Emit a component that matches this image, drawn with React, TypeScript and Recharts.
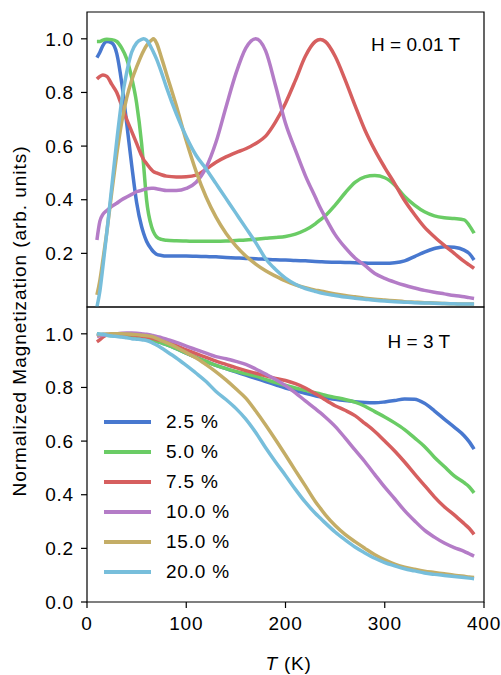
import React from 'react';
import { LineChart, Line, XAxis, YAxis, ReferenceArea, Legend, Label } from 'recharts';

// temperature grid (K), shared by every curve
const temps = [
  10, 13, 16, 20, 25, 30, 35, 40, 45, 50,
  55, 57, 60, 65, 67, 70, 75, 80, 90, 100,
  110, 120, 130, 140, 150, 160, 170, 180, 190, 200,
  210, 220, 230, 235, 240, 250, 260, 270, 280, 290,
  300, 310, 320, 330, 340, 350, 360, 370, 380, 385, 390,
];

// H = 0.01 T
const low25 = [
  0.93, 0.95, 0.975, 0.99, 0.985, 0.945, 0.835, 0.685, 0.53, 0.39,
  0.30, 0.275, 0.245, 0.215, 0.206, 0.197, 0.192, 0.19, 0.19, 0.19,
  0.189, 0.188, 0.187, 0.185, 0.183, 0.181, 0.18, 0.178, 0.176, 0.175,
  0.173, 0.172, 0.17, 0.169, 0.168, 0.167, 0.166, 0.165, 0.164, 0.163,
  0.163, 0.165, 0.172, 0.188, 0.205, 0.218, 0.225, 0.223, 0.212, 0.2, 0.175,
];
const low50 = [
  0.99, 0.99, 0.995, 0.998, 0.997, 0.99, 0.965, 0.925, 0.855, 0.76,
  0.61, 0.53, 0.40, 0.30, 0.28, 0.262, 0.252, 0.249, 0.247, 0.246,
  0.245, 0.245, 0.245, 0.246, 0.248, 0.25, 0.253, 0.256, 0.259, 0.263,
  0.272, 0.287, 0.31, 0.325, 0.34, 0.38, 0.425, 0.465, 0.485, 0.49,
  0.482, 0.455, 0.412, 0.38, 0.355, 0.34, 0.333, 0.33, 0.325, 0.305, 0.275,
];
const low75 = [
  0.85, 0.86, 0.865, 0.86, 0.83, 0.80, 0.75, 0.70, 0.655, 0.61,
  0.565, 0.55, 0.535, 0.512, 0.505, 0.50, 0.493, 0.488, 0.485, 0.486,
  0.492, 0.514, 0.54, 0.56, 0.576, 0.59, 0.61, 0.637, 0.69, 0.76,
  0.845, 0.935, 0.99, 0.997, 0.99, 0.935, 0.848, 0.752, 0.66, 0.585,
  0.52, 0.46, 0.397, 0.345, 0.298, 0.262, 0.23, 0.2, 0.17, 0.157, 0.144,
];
const low100 = [
  0.25, 0.32, 0.345, 0.36, 0.375, 0.387, 0.40, 0.41, 0.42, 0.43,
  0.435, 0.438, 0.441, 0.443, 0.443, 0.441, 0.437, 0.434, 0.434, 0.442,
  0.465, 0.52, 0.615, 0.745, 0.87, 0.965, 1.0, 0.955, 0.825, 0.685,
  0.585, 0.49, 0.41, 0.37, 0.335, 0.27, 0.222, 0.183, 0.155, 0.125,
  0.107, 0.093, 0.081, 0.071, 0.062, 0.055, 0.049, 0.043, 0.038, 0.035, 0.032,
];
const low150 = [
  0.045, 0.10, 0.175, 0.28, 0.43, 0.57, 0.69, 0.78, 0.845, 0.895,
  0.94, 0.955, 0.975, 0.995, 1.0, 0.985, 0.93, 0.87, 0.75, 0.62,
  0.505, 0.41, 0.335, 0.275, 0.228, 0.19, 0.16, 0.135, 0.115, 0.097,
  0.083, 0.072, 0.063, 0.06, 0.056, 0.049, 0.043, 0.038, 0.033, 0.029,
  0.026, 0.023, 0.02, 0.018, 0.016, 0.015, 0.013, 0.012, 0.011, 0.011, 0.011,
];
const low200 = [
  0.0, 0.06, 0.15, 0.28, 0.45, 0.62, 0.77, 0.875, 0.95, 0.985,
  0.998, 1.0, 0.995, 0.965, 0.95, 0.925, 0.875, 0.82, 0.72, 0.635,
  0.565, 0.515, 0.46, 0.405, 0.35, 0.295, 0.24, 0.18, 0.14, 0.108,
  0.085, 0.069, 0.058, 0.053, 0.049, 0.043, 0.037, 0.033, 0.029, 0.025,
  0.022, 0.02, 0.018, 0.016, 0.015, 0.014, 0.013, 0.012, 0.011, 0.011, 0.011,
];

// H = 3 T
const high25 = [
  0.995, 0.996, 0.997, 0.997, 0.996, 0.994, 0.992, 0.99, 0.988, 0.986,
  0.984, 0.983, 0.981, 0.977, 0.975, 0.972, 0.966, 0.96, 0.945, 0.928,
  0.912, 0.897, 0.882, 0.87, 0.858, 0.846, 0.834, 0.822, 0.81, 0.798,
  0.788, 0.778, 0.769, 0.765, 0.762, 0.756, 0.751, 0.747, 0.744, 0.743,
  0.746, 0.751, 0.757, 0.756, 0.741, 0.713, 0.682, 0.652, 0.62, 0.598, 0.57,
];
const high50 = [
  1.0, 0.998, 0.996, 0.995, 0.993, 0.992, 0.99, 0.988, 0.986, 0.985,
  0.983, 0.982, 0.981, 0.977, 0.975, 0.972, 0.966, 0.96, 0.945, 0.928,
  0.912, 0.897, 0.882, 0.87, 0.86, 0.851, 0.842, 0.83, 0.818, 0.808,
  0.798, 0.789, 0.78, 0.776, 0.771, 0.763, 0.755, 0.745, 0.73, 0.71,
  0.69, 0.668, 0.643, 0.612, 0.58, 0.54, 0.505, 0.47, 0.445, 0.43, 0.407,
];
const high75 = [
  0.97, 0.978, 0.988, 0.995, 0.998, 0.999, 0.999, 0.998, 0.996, 0.994,
  0.991, 0.99, 0.988, 0.984, 0.982, 0.979, 0.975, 0.97, 0.956, 0.94,
  0.926, 0.912, 0.898, 0.886, 0.874, 0.863, 0.853, 0.843, 0.834, 0.826,
  0.814, 0.798, 0.777, 0.766, 0.754, 0.732, 0.715, 0.695, 0.666, 0.636,
  0.6, 0.563, 0.522, 0.478, 0.435, 0.392, 0.355, 0.325, 0.292, 0.275, 0.252,
];
const high100 = [
  0.99, 0.993, 0.995, 0.997, 0.999, 1.0, 1.002, 1.003, 1.003, 1.002,
  1.0, 0.999, 0.998, 0.995, 0.993, 0.99, 0.986, 0.98, 0.968, 0.954,
  0.941, 0.928, 0.915, 0.907, 0.897, 0.886, 0.869, 0.85, 0.83, 0.807,
  0.78, 0.75, 0.721, 0.706, 0.69, 0.655, 0.612, 0.567, 0.523, 0.475,
  0.428, 0.385, 0.341, 0.303, 0.268, 0.242, 0.22, 0.203, 0.189, 0.18, 0.171,
];
const high150 = [
  0.995, 0.997, 0.998, 0.999, 1.0, 1.0, 1.0, 0.999, 0.998, 0.997,
  0.995, 0.994, 0.993, 0.99, 0.988, 0.983, 0.975, 0.967, 0.95, 0.93,
  0.91, 0.885, 0.858, 0.828, 0.795, 0.76, 0.712, 0.66, 0.605, 0.548,
  0.49, 0.433, 0.375, 0.35, 0.326, 0.285, 0.252, 0.225, 0.2, 0.176,
  0.157, 0.141, 0.13, 0.122, 0.115, 0.11, 0.105, 0.1, 0.096, 0.093, 0.091,
];
const high200 = [
  1.0, 0.999, 0.998, 0.995, 0.992, 0.99, 0.988, 0.985, 0.982, 0.98,
  0.978, 0.977, 0.975, 0.968, 0.964, 0.958, 0.947, 0.935, 0.91, 0.882,
  0.853, 0.822, 0.785, 0.755, 0.722, 0.682, 0.632, 0.575, 0.522, 0.472,
  0.42, 0.372, 0.331, 0.313, 0.295, 0.261, 0.232, 0.205, 0.183, 0.163,
  0.147, 0.135, 0.124, 0.116, 0.108, 0.103, 0.099, 0.095, 0.091, 0.089, 0.087,
];

const labels = ['2.5 %', '5.0 %', '7.5 %', '10.0 %', '15.0 %', '20.0 %'];
const colors = ['#4878CF', '#6ACC65', '#D65F5F', '#B47CC7', '#C4AD66', '#77BEDB'];
const keys = ['c25', 'c50', 'c75', 'c100', 'c150', 'c200'];

const yTicks = [0, 0.2, 0.4, 0.6, 0.8, 1.0];
const xTicks = [0, 100, 200, 300, 400];

const buildRows = (cols: number[][]) =>
  temps.map((t, i) => {
    const row: any = { T: t };
    keys.forEach((k, j) => { row[k] = cols[j][i]; });
    return row;
  });

const lowData = buildRows([low25, low50, low75, low100, low150, low200]);
const highData = buildRows([high25, high50, high75, high100, high150, high200]);

const FONT = "'Liberation Sans', Arial, Helvetica, sans-serif";
const FS = 19;
const LS = 0.8;
const tickStyle = { fill: '#000', fontSize: FS, fontFamily: FONT, letterSpacing: LS };

// keep the plotting order in the legend (recharts sorts its payload by default)
const renderLegend = () => (
  <div style={{ fontFamily: FONT, fontSize: FS, letterSpacing: LS, color: '#000', whiteSpace: 'nowrap' }}>
    {labels.map((lab, i) => (
      <div key={lab} style={{ display: 'flex', alignItems: 'center', height: 30 }}>
        <svg width={47} height={30} style={{ display: 'block', flex: 'none' }}>
          <line x1={0} x2={47} y1={15} y2={15} stroke={colors[i]} strokeWidth={4} />
        </svg>
        <span style={{ marginLeft: 15, lineHeight: '30px' }}>{lab}</span>
      </div>
    ))}
  </div>
);

const xLabel = (props: any) => {
  const vb = props.viewBox;
  return (
    <text x={vb.x + vb.width / 2 + 3} y={vb.y + 68} textAnchor="middle"
      fontSize={FS} fontFamily={FONT} letterSpacing={LS} fill="#000">
      <tspan fontStyle="italic">T</tspan> (K)
    </text>
  );
};

function Panel({ data, top, height, margin, bottomAxis }: any) {
  return (
    <div style={{ position: 'absolute', left: 0, top }}>
      <LineChart width={501} height={height} data={data} margin={margin}>
        <XAxis
          dataKey="T"
          type="number"
          domain={[0, 400]}
          ticks={xTicks}
          hide={!bottomAxis}
          height={73}
          axisLine={false}
          tickLine={{ stroke: '#000', strokeWidth: 1.2 }}
          tickSize={6}
          tickMargin={9}
          tick={tickStyle}
        >
          {bottomAxis && <Label content={xLabel} />}
        </XAxis>
        <YAxis
          type="number"
          domain={[0, 1.1]}
          ticks={yTicks}
          width={87}
          axisLine={false}
          tickLine={{ stroke: '#000', strokeWidth: 1.2 }}
          tickSize={6}
          tickMargin={7}
          tick={tickStyle}
          tickFormatter={(v: number) => v.toFixed(1)}
        />
        {keys.map((k, i) => (
          <Line
            key={k}
            dataKey={k}
            name={labels[i]}
            type="monotone"
            stroke={colors[i]}
            strokeWidth={3.5}
            dot={false}
            isAnimationActive={false}
          />
        ))}
        <ReferenceArea x1={0} x2={400} y1={0} y2={1.1} fill="none" stroke="#000" strokeWidth={1.2} ifOverflow="visible" />
        {bottomAxis && (
          <Legend
            layout="vertical"
            align="center"
            verticalAlign="middle"
            content={renderLegend}
            wrapperStyle={{ left: 104, top: 107, width: 160, height: 180 }}
          />
        )}
      </LineChart>
    </div>
  );
}

export default function App() {
  return (
    <div style={{ position: 'relative', width: 501, height: 675, background: '#fff' }}>
      <style>{'body{margin:0;}'}</style>
      <Panel data={lowData} top={0} height={310} margin={{ top: 12, right: 17, bottom: 3, left: 0 }} bottomAxis={false} />
      <Panel data={highData} top={300} height={375} margin={{ top: 7, right: 17, bottom: 0, left: 0 }} bottomAxis={true} />
      <svg width={501} height={675} style={{ position: 'absolute', left: 0, top: 0, pointerEvents: 'none' }}>
        <text x={26} y={321} transform="rotate(-90, 26, 321)" textAnchor="middle"
          fontSize={FS} fontFamily={FONT} letterSpacing={0.95} fill="#000">
          Normalized Magnetization (arb. units)
        </text>
        <text x={460} y={51} textAnchor="end" fontSize={FS} fontFamily={FONT} fill="#000">
          H = 0.01 T
        </text>
        <text x={450} y={348} textAnchor="end" fontSize={FS} fontFamily={FONT} fill="#000">
          H = 3 T
        </text>
      </svg>
    </div>
  );
}
